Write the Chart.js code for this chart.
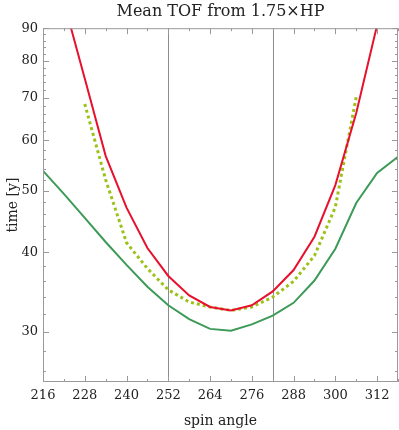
<!DOCTYPE html>
<html>
<head>
<meta charset="utf-8">
<script src="https://cdn.jsdelivr.net/npm/chart.js@4/dist/chart.umd.min.js"></script>
<style>
  html, body { margin: 0; padding: 0; background: #fff; }
  #wrap { width: 399px; height: 430px; }
</style>
</head>
<body>
<div id="wrap"><canvas id="chart1" width="399" height="430"></canvas></div>
<script>
// spin angle samples (deg)
const angles = [216, 222, 228, 234, 240, 246, 252, 258, 264, 270, 276, 282, 288, 294, 300, 306, 312, 318];
// mean TOF [y]
const redValues = [null, 99, 75, 56.7, 47.0, 40.6, 36.7, 34.2, 32.8, 32.4, 33.0, 34.7, 37.5, 42.3, 51.0, 66.2, 91, 122];
const greenValues = [53.7, 49.4, 45.3, 41.5, 38.2, 35.3, 33.0, 31.4, 30.3, 30.1, 30.8, 31.8, 33.3, 36.1, 40.5, 47.8, 53.3, 56.5];
const dottedValues = [null, null, 68.4, 52, 41.4, 37.7, 34.9, 33.4, 32.8, 32.4, 32.8, 34.0, 36.0, 39.5, 47.1, 70.2, null, null];
const markerAngles = [252, 282];
const xTicks = [216, 228, 240, 252, 264, 276, 288, 300, 312];
const yTicks = [30, 40, 50, 60, 70, 80, 90];

const frameColor = '#9a9a9a';
const fontFam = '"DejaVu Serif", serif';

function toPoints(vals) {
    return angles.map((a, i) => ({ x: a, y: vals[i] }));
}

// vertical marker lines + frame with inner ticks
const framePlugin = {
    id: 'framePlugin',
    beforeDatasetsDraw(chart) {
        const { ctx, chartArea: ca, scales } = chart;
        ctx.save();
        ctx.strokeStyle = '#8c8c8c';
        ctx.lineWidth = 1;
        markerAngles.forEach(a => {
            const px = Math.round(scales.x.getPixelForValue(a)) + 0.5;
            ctx.beginPath();
            ctx.moveTo(px, ca.top);
            ctx.lineTo(px, ca.bottom);
            ctx.stroke();
        });
        ctx.restore();
    },
    afterDatasetsDraw(chart) {
        const { ctx, chartArea: ca, scales } = chart;
        ctx.save();
        ctx.strokeStyle = frameColor;
        ctx.lineWidth = 1;
        ctx.strokeRect(ca.left + 0.5, ca.top + 0.5, ca.right - ca.left - 1, ca.bottom - ca.top - 1);
        ctx.beginPath();
        // x ticks, major every 12, minor every 6
        for (let a = 216; a <= 318; a += 6) {
            const px = Math.round(scales.x.getPixelForValue(a)) + 0.5;
            const len = (a - 216) % 12 === 0 ? 6 : 3;
            ctx.moveTo(px, ca.bottom); ctx.lineTo(px, ca.bottom - len);
            ctx.moveTo(px, ca.top); ctx.lineTo(px, ca.top + len);
        }
        // y ticks, major every 10, minor every 2
        for (let v = 26; v <= 90; v += 2) {
            const py = Math.round(scales.y.getPixelForValue(v)) + 0.5;
            const len = v % 10 === 0 ? 6 : 3;
            ctx.moveTo(ca.left, py); ctx.lineTo(ca.left + len, py);
            ctx.moveTo(ca.right, py); ctx.lineTo(ca.right - len, py);
        }
        ctx.stroke();
        ctx.restore();
    }
};

new Chart('chart1', {
    type: 'line',
    data: {
        datasets: [
            {
                label: 'red',
                data: toPoints(redValues),
                borderColor: '#e8112d',
                borderWidth: 2,
                pointRadius: 0,
                tension: 0
            },
            {
                label: 'dotted',
                data: toPoints(dottedValues),
                borderColor: '#9cc21a',
                borderWidth: 3,
                borderDash: [3, 3],
                borderCapStyle: 'butt',
                pointRadius: 0,
                tension: 0
            },
            {
                label: 'green',
                data: toPoints(greenValues),
                borderColor: '#3d9a57',
                borderWidth: 2,
                pointRadius: 0,
                tension: 0
            }
        ]
    },
    options: {
        responsive: false,
        animation: false,
        events: [],
        layout: { padding: { left: 0, right: 1, top: 0, bottom: 0 } },
        plugins: {
            legend: { display: false },
            tooltip: { enabled: false },
            title: {
                display: true,
                fullSize: false,
                text: 'Mean TOF from 1.75×HP',
                color: '#222',
                font: { family: fontFam, size: 16, weight: 'normal', lineHeight: 1.2 },
                padding: { top: 2, bottom: 7 }
            }
        },
        scales: {
            x: {
                type: 'linear',
                min: 216,
                max: 318,
                afterBuildTicks: s => { s.ticks = xTicks.map(v => ({ value: v })); },
                afterFit: s => { s.height = 48; },
                grid: { display: false, drawTicks: false },
                border: { display: false },
                ticks: {
                    color: '#222',
                    padding: 6,
                    maxRotation: 0,
                    autoSkip: false,
                    font: { family: fontFam, size: 13 }
                },
                title: {
                    display: true,
                    text: 'spin angle',
                    color: '#222',
                    font: { family: fontFam, size: 14 },
                    padding: { top: 2, bottom: 0 }
                }
            },
            y: {
                type: 'logarithmic',
                min: 25,
                max: 90,
                afterBuildTicks: s => { s.ticks = yTicks.map(v => ({ value: v })); },
                afterFit: s => { s.width = 43; },
                grid: { display: false, drawTicks: false },
                border: { display: false },
                ticks: {
                    color: '#222',
                    padding: 5,
                    autoSkip: false,
                    font: { family: fontFam, size: 13 },
                    callback: v => String(v)
                },
                title: {
                    display: true,
                    text: 'time [y]',
                    color: '#222',
                    font: { family: fontFam, size: 14 },
                    padding: { top: 5, bottom: 0 }
                }
            }
        }
    },
    plugins: [framePlugin]
});
</script>
</body>
</html>
